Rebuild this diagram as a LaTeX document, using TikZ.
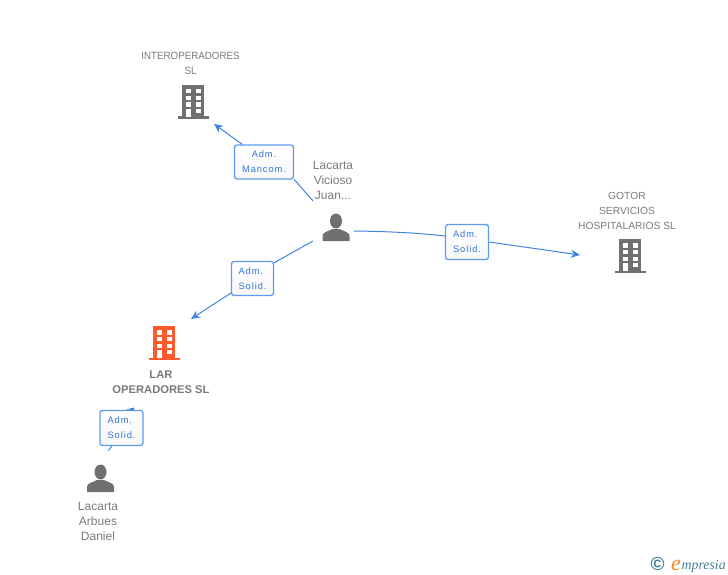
\documentclass[tikz,border=0pt]{standalone}
\usepackage{fontspec}
\setmainfont{Liberation Sans}
\newfontfamily\spacedfont[LetterSpace=10]{Liberation Sans}
\newfontfamily\narrowfont[FakeStretch=0.93]{Liberation Sans}
\newfontfamily\logofont{Liberation Serif}
\usetikzlibrary{arrows.meta}
\definecolor{icongray}{HTML}{707070}
\definecolor{iconorange}{HTML}{FF5A2B}
\definecolor{linkblue}{HTML}{3F84E0}
\definecolor{tagtext}{HTML}{2F74D8}
\definecolor{boxblue}{HTML}{5B9BF0}
\definecolor{txtgray}{HTML}{7A7A7A}
\definecolor{logoblue}{HTML}{3F7F95}
\definecolor{logoorange}{HTML}{F08A24}
\newcommand{\taglines}[3]{\raisebox{-1pt}{\begin{tabular}{@{}#1@{}}#2\\#3\end{tabular}}}
\tikzset{
  x=1pt,y=-1pt,
  bldg/.pic={
    \fill[pic actions] (-11,-17) rectangle (11,15);
    \fill[pic actions] (-15.5,14.5) rectangle (15.5,17);
    \foreach \yy in {-12.7,-6,0.5}{
      \fill[white] (-7.3,\yy) rectangle (-2.5,\yy+4.2);
      \fill[white] (2.7,\yy) rectangle (7.5,\yy+4.2);
    }
    \fill[white] (-7,7) rectangle (-2.5,15);
    \fill[white] (2.7,7) rectangle (7.5,11.2);
  },
  persona/.pic={
    \fill[pic actions] (0,-7) ellipse (6 and 7.5);
    \fill[pic actions] (-13.5,13) -- (-13.5,8) .. controls (-13.5,4) and (-8,3.5) .. (-3.5,1) -- (3.5,1) .. controls (8,3.5) and (13.5,4) .. (13.5,8) -- (13.5,13) -- cycle;
  },
  txt/.style={align=center,text=txtgray,inner sep=0pt},
  nametxt/.style={txt,font=\fontsize{12}{15}\selectfont},
  tag/.style={draw=boxblue,line width=1.3pt,rounded corners=2.5pt,top color=white,bottom color=white!97!black,
     text=tagtext,inner sep=0pt,font=\spacedfont\fontsize{9.3}{15}\selectfont},
  link/.style={draw=linkblue,line width=1pt},
  arrowlink/.style={link,-{Stealth[length=9pt,width=8pt]}},
}
\begin{document}
\begin{tikzpicture}
\useasboundingbox (0,0) rectangle (728,575);
\pic[icongray] (b1) at (193,102) {bldg};
\pic[icongray] (b2) at (630,256) {bldg};
\pic[iconorange] (b3) at (164,343) {bldg};
\pic[icongray] (p1) at (336,228) {persona};
\pic[icongray] (p2) at (100.5,479) {persona};
\node[txt,font=\narrowfont\fontsize{10.5}{15}\selectfont] (t1) at (190.5,63.5) {INTEROPERADORES\\SL};
\node[nametxt] (t2) at (333,180) {Lacarta\\Vicioso\\Juan...};
\node[txt,font=\fontsize{10.3}{15}\selectfont] (t3) at (627,211) {GOTOR\\SERVICIOS\\HOSPITALARIOS SL};
\node[txt,font=\bfseries\fontsize{11.2}{15}\selectfont] (t4) at (161,382) {LAR\\OPERADORES SL};
\node[nametxt] (t5) at (98,521) {Lacarta\\Arbues\\Daniel};
\node[tag,minimum width=59pt,minimum height=34pt] (m) at (264,162) {\taglines{c}{Adm.}{Mancom.}};
\node[tag,minimum width=42pt,minimum height=34pt] (s1) at (252.5,278.5) {\taglines{l}{Adm.}{Solid.}};
\node[tag,minimum width=43pt,minimum height=35pt] (s2) at (467,242) {\taglines{l}{Adm.}{Solid.}};
\node[tag,minimum width=43pt,minimum height=35pt] (s3) at (121.5,428) {\taglines{l}{Adm.}{Solid.}};
\coordinate (a1) at (214,124);
\coordinate (a2) at (191,319);
\coordinate (a3) at (580,255);
\coordinate (f1) at (313,201);
\coordinate (f2) at (313,241);
\coordinate (f3) at (354,231);
\coordinate (f4) at (108.3,450.5);
\coordinate (h1) at (126,409.5);
\coordinate (h2) at (134,407.5);
\coordinate (h3) at (134,410);
\draw[link] (f1) -- (m.-30);
\draw[arrowlink] (m.141) -- (a1);
\draw[link] (f2) -- (s1.36);
\draw[arrowlink] (s1.214) -- (a2);
\draw[link] (f3) .. controls (390,231.5) and (420,233) .. (s2.165);
\draw[arrowlink] (s2.east) -- (a3);
\draw[link] (f4) -- (s3.242);
\fill[linkblue] (h1) -- (h2) -- (h3) -- cycle;
\node[inner sep=0pt,text=logoblue,font=\bfseries\fontsize{19}{19}\selectfont] (c) at (657.5,564) {©};
\node[inner sep=0pt,anchor=base west,text=logoorange,font=\logofont\itshape\fontsize{22}{22}\selectfont] (e) at (671,570) {e};
\node[inner sep=0pt,anchor=base west,text=logoblue,font=\logofont\itshape\fontsize{13.8}{13.8}\selectfont] (w) at (681.5,569) {mpresia};
\end{tikzpicture}
\end{document}
